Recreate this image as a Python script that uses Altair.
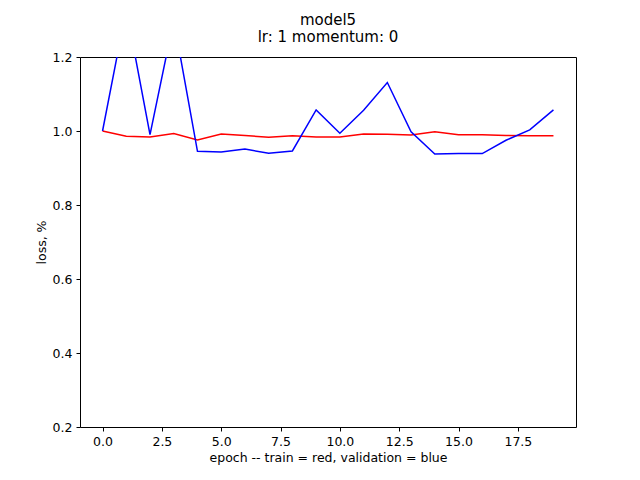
import altair as alt
import pandas as pd

epochs = list(range(20))
train = [1.0, 0.986, 0.984, 0.993, 0.976, 0.992, 0.988, 0.983, 0.987, 0.984,
         0.984, 0.992, 0.991, 0.989, 0.998, 0.990, 0.990, 0.988, 0.987, 0.987]
valid = [1.0, 1.33, 0.99, 1.3, 0.945, 0.943, 0.951, 0.940, 0.946, 1.057,
         0.994, 1.056, 1.131, 0.998, 0.938, 0.939, 0.939, 0.975, 1.003, 1.057]

df = pd.DataFrame({
    "epoch": epochs * 2,
    "loss": train + valid,
    "set": ["train"] * 20 + ["validation"] * 20,
})

chart = alt.Chart(df).mark_line(clip=True, strokeWidth=1.5).encode(
    x=alt.X("epoch:Q", title="epoch -- train = red, validation = blue",
            scale=alt.Scale(domain=[-0.95, 19.95], nice=False, zero=False),
            axis=alt.Axis(values=[0, 2.5, 5, 7.5, 10, 12.5, 15, 17.5], format=".1f", grid=False)),
    y=alt.Y("loss:Q", title="loss, %",
            scale=alt.Scale(domain=[0.2, 1.2], nice=False, zero=False),
            axis=alt.Axis(values=[0.2, 0.4, 0.6, 0.8, 1.0, 1.2], format=".1f", grid=False)),
    color=alt.Color("set:N", scale=alt.Scale(domain=["train", "validation"],
                                             range=["red", "blue"]), legend=None),
).properties(
    width=496, height=370,
    title=alt.Title(["model5", "lr: 1 momentum: 0"], fontSize=15, fontWeight="normal",
                    font="DejaVu Sans", offset=6, color="black"),
    autosize=alt.AutoSizeParams(type="none"),
    padding={"left": 72, "top": 49, "right": 56, "bottom": 45},
).configure(background="white").configure_view(
    stroke="black", strokeWidth=1
).configure_axis(
    grid=False, domain=False, tickColor="black", labelColor="black", titleColor="black",
    labelFont="DejaVu Sans", titleFont="DejaVu Sans", labelFontSize=12.5,
    titleFontSize=12.5, titleFontWeight="normal", tickSize=4, labelPadding=4
)

chart.save("out.html", embed_options={"renderer": "svg", "actions": False})
